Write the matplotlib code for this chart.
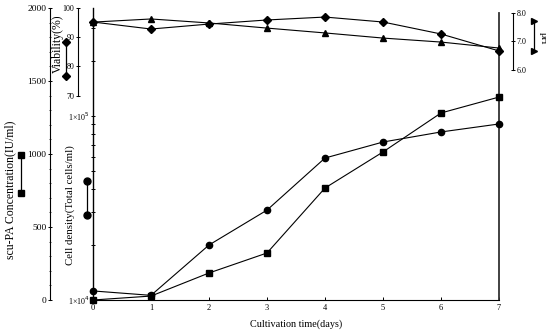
import matplotlib
matplotlib.use("Agg")
import matplotlib.pyplot as plt
from matplotlib.lines import Line2D
from matplotlib.ticker import FixedLocator, NullFormatter

# 数据
days = [0, 1, 2, 3, 4, 5, 6, 7]
scupa = [0, 27, 185, 322, 767, 1014, 1281, 1390]          # IU/ml, 方块
cells = [1.12e4, 1.06e4, 1.99e4, 3.08e4, 5.91e4, 7.22e4, 8.19e4, 9.05e4]  # 圆点
viability = [95.2, 92.8, 94.5, 95.9, 96.9, 95.2, 91.1, 85.3]  # 菱形
ph = [7.68, 7.79, 7.65, 7.47, 7.30, 7.12, 6.98, 6.77]          # 三角

plt.rcParams['font.family'] = ['Liberation Serif', 'DejaVu Serif']
fs = 6.8

fig = plt.figure(figsize=(5.46, 3.35), dpi=100)
W, H = 546, 335
x0, x1, ytop, ybot = 93, 499, 8, 300
ax = fig.add_axes([x0 / W, 1 - ybot / H, (x1 - x0) / W, (ybot - ytop) / H])
ax.patch.set_alpha(0)
lw = 0.8

# 1. scu-PA 轴 (左侧最外)
ax.plot(days, scupa, color='black', lw=lw, marker='s', ms=4, zorder=5, clip_on=False)
ax.set_xlim(0, 7)
ax.set_ylim(0, 2000)
ax.spines['top'].set_visible(False)
ax.spines['left'].set_position(('axes', -(x0 - 50) / (x1 - x0)))
ax.spines['right'].set_bounds(0, 1966)
ax.set_yticks([0, 500, 1000, 1500, 2000])
ax.set_yticklabels(['0', '500', '1000', '1500', '2000'], fontsize=fs)
ax.yaxis.set_minor_locator(FixedLocator(range(0, 2001, 100)))
ax.tick_params(axis='y', which='major', direction='inout', length=3, width=0.7, pad=1)
ax.tick_params(axis='y', which='minor', direction='inout', length=1.5, width=0.5)
ax.set_xticks(days)
ax.set_xticklabels([str(d) for d in days], fontsize=fs - 0.8)
ax.tick_params(axis='x', direction='in', length=2, width=0.7, pad=3)
for s in ax.spines.values():
    s.set_linewidth(0.8)
ax.spines['right'].set_linewidth(1.3)
ax.spines['right'].set_color('#333333')
ax.set_xlabel('Cultivation time(days)', fontsize=7.3, labelpad=5)

# 2. 细胞密度 (对数轴, 在 day 0 处)
axc = ax.twinx()
axc.set_yscale('log')
axc.set_ylim(1e4, 10 ** (4 + 292 / 184))
axc.plot(days, cells, color='black', lw=lw, marker='o', ms=4.5, zorder=5, clip_on=False)
axc.spines['right'].set_visible(False)
axc.spines['top'].set_visible(False)
axc.spines['bottom'].set_visible(False)
axc.spines['left'].set_visible(True)
axc.spines['left'].set_linewidth(1.0)
axc.yaxis.tick_left()
axc.set_yticks([1e4, 1e5])
axc.set_yticklabels(['1×10$^4$', '1×10$^5$'], fontsize=fs - 1)
axc.yaxis.set_minor_formatter(NullFormatter())
axc.tick_params(axis='y', which='both', direction='inout', length=3, width=0.7, pad=1)

# 3. 存活率 (菱形)
axv = ax.twinx()
axv.set_ylim(0, 100)
axv.plot(days, viability, color='black', lw=lw, marker='D', ms=4.5, zorder=6, clip_on=False)
for k in ['right', 'top', 'bottom']:
    axv.spines[k].set_visible(False)
axv.spines['left'].set_visible(True)
axv.spines['left'].set_position(('axes', -(x0 - 78) / (x1 - x0)))
axv.spines['left'].set_bounds(70, 100)
axv.spines['left'].set_linewidth(0.8)
axv.yaxis.tick_left()
axv.set_yticks([70, 80, 90, 100])
axv.set_yticklabels(['70', '80', '90', '100'], fontsize=fs - 1)
axv.tick_params(axis='y', direction='inout', length=3, width=0.7, pad=1)

# 4. pH (三角, 右侧)
axp = ax.twinx()
axp.set_ylim(-2.07, 8.175)
axp.plot(days, ph, color='black', lw=lw, marker='^', ms=4.5, zorder=6, clip_on=False)
for k in ['left', 'top', 'bottom']:
    axp.spines[k].set_visible(False)
axp.spines['right'].set_position(('axes', (513 - x0) / (x1 - x0)))
axp.spines['right'].set_bounds(6, 8)
axp.spines['right'].set_linewidth(0.8)
axp.set_yticks([6, 7, 8])
axp.set_yticklabels(['6.0', '7.0', '8.0'], fontsize=fs - 1)
axp.tick_params(axis='y', direction='inout', length=3, width=0.7, pad=1)

# 轴标题
fig.text(10 / W, 1 - 190 / H, 'scu-PA Concentration(IU/ml)', rotation=90,
         ha='center', va='center', fontsize=8.5)
fig.text(58 / W, 1 - 44 / H, 'Viability(%)', rotation=90,
         ha='center', va='center', fontsize=8.5)
fig.text(70 / W, 1 - 205 / H, 'Cell density(Total cells/ml)', rotation=90,
         ha='center', va='center', fontsize=7.8)
fig.text(543 / W, 1 - 38 / H, 'pH', rotation=-90,
         ha='center', va='center', fontsize=7.5)

# 图例式的标记对
def key(xp, ya, yb, marker, ms):
    fig.add_artist(Line2D([xp / W, xp / W], [1 - ya / H, 1 - yb / H],
                          color='black', lw=0.9, marker=marker, ms=ms,
                          transform=fig.transFigure))

key(21, 155, 193, 's', 4.5)
key(87, 181, 215, 'o', 5)
key(66, 42, 76, 'D', 4.5)
key(534, 21, 51, '>', 4.5)

fig.savefig('out.png', dpi=100)
